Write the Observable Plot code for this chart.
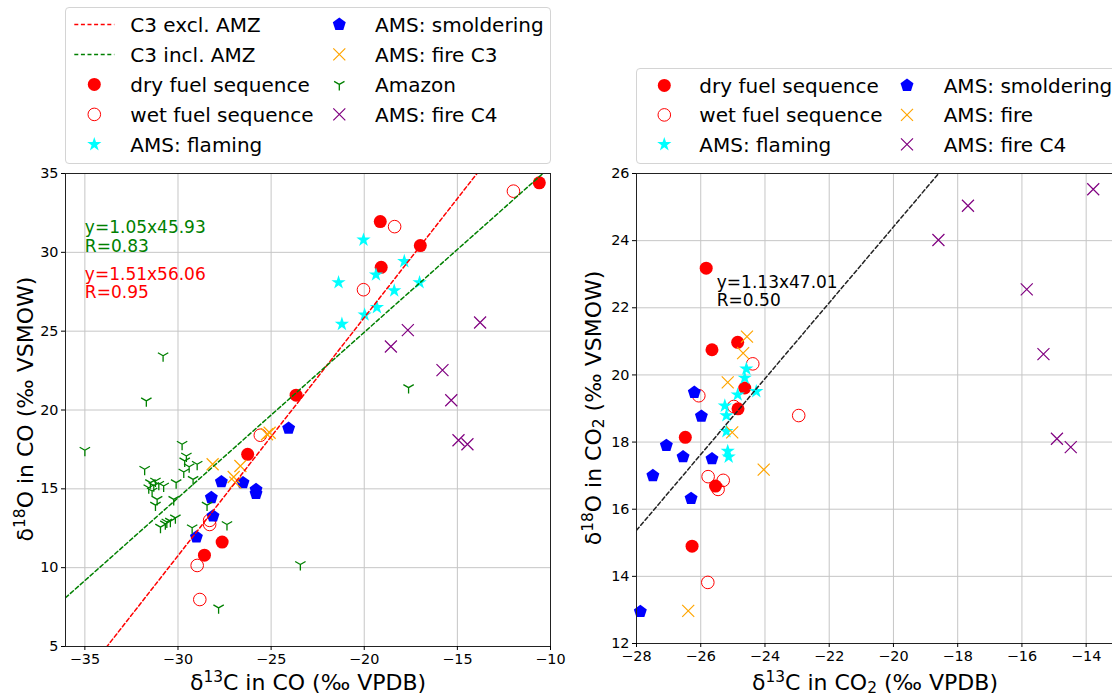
<!DOCTYPE html>
<html><head><meta charset="utf-8">
<script src="https://cdn.jsdelivr.net/npm/d3@7"></script>
<script src="https://cdn.jsdelivr.net/npm/@observablehq/plot@0.6"></script>
<style>
body{margin:0;background:#fff;}
#root{position:relative;width:1112px;height:696px;overflow:hidden;font-family:"DejaVu Sans",sans-serif;background:#fff;}
.panel{position:absolute;top:0;}
.legend{position:absolute;background:#fff;border:1px solid #d4d4d4;border-radius:4px;box-sizing:border-box;overflow:hidden;}
.legend svg{position:absolute;left:-1px;top:-1px;}
.alab{position:absolute;white-space:nowrap;font-size:22px;line-height:22px;height:22px;color:#000;}
.alab sup{font-size:0.7em;vertical-align:0;position:relative;top:-0.5em;}
.alab sub{font-size:0.7em;vertical-align:0;position:relative;top:0.22em;}
</style></head><body><div id="root"></div>
<script>
// ---------------- DATA: left panel (CO) ----------------
const coXTicks = [-35, -30, -25, -20, -15, -10];
const coYTicks = [5, 10, 15, 20, 25, 30, 35];
const coDry = [[-23.66,20.94],[-26.26,17.19],[-27.63,11.62],[-28.58,10.79],[-19.14,31.95],[-16.99,30.43],[-19.09,29.05],[-10.60,34.41]];
const coWet = [[-25.58,18.40],[-28.30,13.00],[-28.30,12.74],[-28.97,10.14],[-28.83,7.98],[-18.37,31.63],[-20.04,27.63],[-11.99,33.88]];
const coFlaming = [[-20.04,30.79],[-17.85,29.43],[-19.37,28.58],[-21.38,28.09],[-17.03,28.09],[-18.39,27.57],[-19.32,26.51],[-19.98,26.04],[-21.20,25.45]];
const coSmolder = [[-24.06,18.84],[-27.67,15.45],[-26.51,15.39],[-25.81,14.95],[-25.81,14.70],[-28.21,14.44],[-28.12,13.27],[-29.01,11.94]];
const coFireC3 = [[-28.14,16.56],[-26.65,16.45],[-27.01,15.75],[-26.92,15.39],[-25.22,18.46],[-25.08,18.56]];
const coAmazon = [[-30.80,23.44],[-31.70,20.58],[-35.00,17.45],[-29.78,17.83],[-29.55,17.08],[-29.64,16.77],[-28.97,16.56],[-29.69,16.07],[-29.19,15.60],[-31.79,16.24],[-30.10,15.39],[-31.48,15.39],[-31.21,15.50],[-31.03,15.29],[-30.77,15.18],[-31.57,15.07],[-31.39,14.86],[-31.12,14.33],[-31.21,13.97],[-30.23,14.33],[-28.44,13.97],[-30.94,12.57],[-30.68,12.78],[-30.41,12.95],[-30.14,13.16],[-29.24,12.53],[-27.37,12.74],[-27.82,7.45],[-23.43,10.20],[-17.62,21.42],[-29.40,16.40],[-31.30,15.20],[-30.60,12.90]];
const coFireC4 = [[-13.78,25.55],[-17.66,25.07],[-18.57,24.03],[-15.80,22.53],[-15.33,20.62],[-14.94,18.08],[-14.46,17.83]];
const coFitSlope = [1.51, 1.05];
const coFitIntercept = [56.06, 45.93];
const coFitNames = ["C3 excl. AMZ", "C3 incl. AMZ"];
const coFitText = ["y=1.51x56.06\nR=0.95", "y=1.05x45.93\nR=0.83"];
const coFitTextPos = [[-35, 27.1], [-35, 30.04]];

// ---------------- DATA: right panel (CO2) ----------------
const co2XTicks = [-28, -26, -24, -22, -20, -18, -16, -14];
const co2YTicks = [12, 14, 16, 18, 20, 22, 24, 26];
const co2Dry = [[-25.83,23.18],[-25.65,20.75],[-24.85,20.97],[-24.63,19.61],[-24.84,18.99],[-26.48,18.14],[-25.54,16.69],[-26.27,14.90]];
const co2Wet = [[-24.38,20.33],[-26.06,19.38],[-22.95,18.79],[-24.97,19.06],[-25.77,16.97],[-25.30,16.86],[-25.46,16.59],[-25.78,13.82]];
const co2Flaming = [[-24.58,20.18],[-24.63,19.91],[-24.27,19.51],[-24.85,19.41],[-25.25,19.08],[-25.20,18.79],[-25.20,18.32],[-25.16,17.73],[-25.13,17.56]];
const co2Smolder = [[-26.20,19.48],[-25.98,18.77],[-27.07,17.90],[-26.55,17.56],[-25.65,17.50],[-27.49,17.00],[-26.30,16.32],[-27.88,12.95]];
const co2Fire = [[-24.56,21.14],[-24.68,20.65],[-25.16,19.78],[-25.02,18.29],[-24.04,17.18],[-26.39,12.97]];
const co2FireC4 = [[-13.78,25.53],[-17.68,25.04],[-18.60,24.02],[-15.85,22.55],[-15.33,20.62],[-14.91,18.10],[-14.48,17.85]];
const co2FitSlope = [1.13];
const co2FitIntercept = [47.01];
const co2FitText = ["y=1.13x47.01\nR=0.50"];
const co2FitTextPos = [[-25.5, 22.04]];

// ---------------- symbols & styles ----------------
const rad = s => Math.sqrt(s / Math.PI);
const circ = {draw(c, s){ const r = rad(s); c.moveTo(r, 0); c.arc(0, 0, r, 0, 2 * Math.PI); c.closePath(); }};
const pentagon = {draw(c, s){ const r = rad(s); for (let k = 0; k < 5; k++){ const a = -Math.PI/2 + k*2*Math.PI/5; const px = r*Math.cos(a), py = r*Math.sin(a); k ? c.lineTo(px, py) : c.moveTo(px, py);} c.closePath(); }};
const star5 = {draw(c, s){ const R = rad(s), ri = R*0.382; for (let k = 0; k < 10; k++){ const a = -Math.PI/2 + k*Math.PI/5; const rr = k % 2 ? ri : R; const px = rr*Math.cos(a), py = rr*Math.sin(a); k ? c.lineTo(px, py) : c.moveTo(px, py);} c.closePath(); }};
const triDown = {draw(c, s){ const r = rad(s); c.moveTo(0,0); c.lineTo(0,r); c.moveTo(0,0); c.lineTo(-0.866*r,-0.5*r); c.moveTo(0,0); c.lineTo(0.866*r,-0.5*r); }};
const xmark = {draw(c, s){ const r = rad(s); c.moveTo(-r,-r); c.lineTo(r,r); c.moveTo(-r,r); c.lineTo(r,-r); }};

const STY = {
  dry: {symbol: circ, r: 6.5, fill: "red", stroke: "none", sw: 0},
  wet: {symbol: circ, r: 6.3, fill: "none", stroke: "red", sw: 1},
  flaming: {symbol: star5, r: 7.5, fill: "cyan", stroke: "none", sw: 0},
  smolder: {symbol: pentagon, r: 6.8, fill: "blue", stroke: "none", sw: 0},
  fire: {symbol: xmark, r: 6, fill: "none", stroke: "orange", sw: 1.2},
  amazon: {symbol: triDown, r: 6, fill: "none", stroke: "green", sw: 1.3},
  c4: {symbol: xmark, r: 6, fill: "none", stroke: "purple", sw: 1.2}
};
const FITCOL = ["red", "green"];
const GRID = "#c6c6c6";
const FONT = '"DejaVu Sans", sans-serif';
const DASH = "4,2.6";

const dotMark = (data, st) => Plot.dot(data, {x: d => d[0], y: d => d[1], symbol: st.symbol, r: st.r, fill: st.fill, stroke: st.stroke, strokeWidth: st.sw});

function makePanel(cfg){
  const marks = [
    Plot.ruleX(cfg.xTicks, {stroke: GRID, strokeWidth: 1}),
    Plot.ruleY(cfg.yTicks, {stroke: GRID, strokeWidth: 1})
  ];
  for (const [data, st] of cfg.series) marks.push(dotMark(data, st));
  cfg.slopes.forEach((m, i) => {
    const b = cfg.intercepts[i];
    const pts = cfg.xDom.map(x => [x, m * x + b]);
    marks.push(Plot.line(pts, {x: d => d[0], y: d => d[1], stroke: cfg.fitColors[i], strokeWidth: 1.5, strokeDasharray: DASH, clip: true}));
  });
  cfg.texts.forEach((t, i) => {
    marks.push(Plot.text([t], {x: () => cfg.textPos[i][0], y: () => cfg.textPos[i][1], text: d => d, fill: cfg.textColors[i], textAnchor: "start", lineAnchor: "bottom", fontSize: 17, lineHeight: 1.08}));
  });
  marks.push(Plot.frame({stroke: "#222", strokeWidth: 1}));
  marks.push(Plot.axisX({ticks: cfg.xTicks, tickSize: 4, tickPadding: 3, fontSize: 14.4, label: null, tickFormat: d3.format("")}));
  marks.push(Plot.axisY({ticks: cfg.yTicks, tickSize: 4, tickPadding: 3, fontSize: 14.4, label: null, tickFormat: d3.format("")}));
  return Plot.plot({
    width: cfg.width, height: 696,
    marginLeft: cfg.mL, marginRight: cfg.mR, marginTop: cfg.mT, marginBottom: cfg.mB,
    x: {domain: cfg.xDom}, y: {domain: cfg.yDom},
    style: {fontFamily: FONT, fontSize: "14.4px", color: "#000", background: "transparent"},
    marks
  });
}

const root = document.getElementById("root");

const left = makePanel({
  width: 590, mL: 65, mR: 40, mT: 173, mB: 50,
  xDom: [-36.04, -10], yDom: [5, 35], xTicks: coXTicks, yTicks: coYTicks,
  series: [[coDry, STY.dry], [coWet, STY.wet], [coFlaming, STY.flaming], [coSmolder, STY.smolder], [coFireC3, STY.fire], [coAmazon, STY.amazon], [coFireC4, STY.c4]],
  slopes: coFitSlope, intercepts: coFitIntercept, fitColors: FITCOL,
  texts: coFitText, textPos: coFitTextPos, textColors: FITCOL
});
left.classList.add("panel"); left.style.left = "0px";
root.appendChild(left);

const right = makePanel({
  width: 522, mL: 46, mR: 0, mT: 173, mB: 53,
  xDom: [-28, -13.18], yDom: [12, 26], xTicks: co2XTicks, yTicks: co2YTicks,
  series: [[co2Dry, STY.dry], [co2Wet, STY.wet], [co2Flaming, STY.flaming], [co2Smolder, STY.smolder], [co2Fire, STY.fire], [co2FireC4, STY.c4]],
  slopes: co2FitSlope, intercepts: co2FitIntercept, fitColors: ["#222"],
  texts: co2FitText, textPos: co2FitTextPos, textColors: ["#000"]
});
right.classList.add("panel"); right.style.left = "590px";
root.appendChild(right);

// ---------------- legends ----------------
const NS = "http://www.w3.org/2000/svg";
function legend(box, cols, rowStart, rowStep){
  const div = document.createElement("div");
  div.className = "legend";
  Object.assign(div.style, {left: box[0] + "px", top: box[1] + "px", width: box[2] + "px", height: box[3] + "px"});
  const svg = document.createElementNS(NS, "svg");
  svg.setAttribute("width", box[2]); svg.setAttribute("height", box[3]);
  svg.style.fontFamily = FONT;
  cols.forEach(col => {
    col.items.forEach((it, k) => {
      const base = rowStart + k * rowStep, cy = base - 7.3;
      if (it.line) {
        const l = document.createElementNS(NS, "line");
        l.setAttribute("x1", col.sx - 20); l.setAttribute("x2", col.sx + 20);
        l.setAttribute("y1", cy); l.setAttribute("y2", cy);
        l.setAttribute("stroke", it.line); l.setAttribute("stroke-width", 1.5);
        l.setAttribute("stroke-dasharray", DASH);
        svg.appendChild(l);
      } else {
        const st = it.st;
        const p = d3.path(); st.symbol.draw(p, st.r * st.r * Math.PI);
        const path = document.createElementNS(NS, "path");
        path.setAttribute("d", p.toString());
        path.setAttribute("transform", `translate(${col.sx},${cy})`);
        path.setAttribute("fill", st.fill); path.setAttribute("stroke", st.stroke);
        path.setAttribute("stroke-width", st.sw);
        svg.appendChild(path);
      }
      const t = document.createElementNS(NS, "text");
      t.setAttribute("x", col.tx); t.setAttribute("y", base);
      t.setAttribute("font-size", 20); t.setAttribute("fill", "#000");
      t.textContent = it.label;
      svg.appendChild(t);
    });
  });
  div.appendChild(svg);
  root.appendChild(div);
}

legend([65, 7, 486, 157], [
  {sx: 29.3, tx: 65.3, items: [
    {line: "red", label: coFitNames[0]}, {line: "green", label: coFitNames[1]},
    {st: STY.dry, label: "dry fuel sequence"}, {st: STY.wet, label: "wet fuel sequence"}, {st: STY.flaming, label: "AMS: flaming"}]},
  {sx: 274.3, tx: 310, items: [
    {st: STY.smolder, label: "AMS: smoldering"}, {st: STY.fire, label: "AMS: fire C3"},
    {st: STY.amazon, label: "Amazon"}, {st: STY.c4, label: "AMS: fire C4"}]}
], 24.7, 30);

legend([636, 68, 480, 96], [
  {sx: 28.3, tx: 63.3, items: [
    {st: STY.dry, label: "dry fuel sequence"}, {st: STY.wet, label: "wet fuel sequence"}, {st: STY.flaming, label: "AMS: flaming"}]},
  {sx: 271, tx: 307.7, items: [
    {st: STY.smolder, label: "AMS: smoldering"}, {st: STY.fire, label: "AMS: fire"}, {st: STY.c4, label: "AMS: fire C4"}]}
], 24.7, 29.5);

// ---------------- axis labels ----------------
function axisLabel(html, cx, cy, rotate){
  const d = document.createElement("div");
  d.className = "alab";
  d.innerHTML = html;
  root.appendChild(d);
  d.style.left = cx + "px"; d.style.top = cy + "px";
  d.style.transform = `translate(-50%,-50%)${rotate ? " rotate(-90deg)" : ""}`;
}
axisLabel("δ<sup>13</sup>C in CO (‰ VPDB)", 308, 683, false);
axisLabel("δ<sup>13</sup>C in CO<sub>2</sub> (‰ VPDB)", 875, 683, false);
axisLabel("δ<sup>18</sup>O in CO (‰ VSMOW)", 25.5, 409, true);
axisLabel("δ<sup>18</sup>O in CO<sub>2</sub> (‰ VSMOW)", 594, 408, true);
</script></body></html>
